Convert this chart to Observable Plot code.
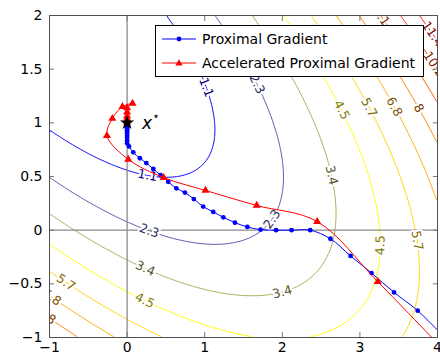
<!DOCTYPE html>
<html><head><meta charset="utf-8">
<script src="https://cdn.jsdelivr.net/npm/d3@7"></script>
<script src="https://cdn.jsdelivr.net/npm/@observablehq/plot@0.6"></script>
<style>
body{margin:0;background:#fff;}
#wrap{position:relative;width:440px;height:355px;font-family:"DejaVu Sans",sans-serif;}
#legend{position:absolute;left:155px;top:25px;width:269px;height:52px;border:1px solid #000;background:#fff;box-sizing:border-box;font-size:14px;color:#000;}
.row{position:absolute;left:0;height:20px;display:flex;align-items:center;white-space:nowrap;}
.row svg{margin-left:6px;margin-right:6px;}
</style></head><body><div id="wrap"></div>
<script>
const xTicks = [-1, 0, 1, 2, 3, 4];
const yTicks = [-1, -0.5, 0, 0.5, 1, 1.5, 2];
const contourLevels = [1.136, 2.273, 3.409, 4.545, 5.682, 6.818, 7.955, 9.091, 10.227, 11.364];
const contourLabelText = ["1.1", "2.3", "3.4", "4.5", "5.7", "6.8", "8", "9.1", "10.2", "11.4"];
// smooth objective: c0*x^2 + c1*x*y + c2*y^2 + c3*x + c4*y + c5
const surfaceCoefficients = [0.5, 1, 1, -1, -3, 2.5];
// contour label anchors (approximate), level number
const labelX = [0.95, 0.26, 0.28, 1.66, 1.85, 0.22, 2.0, 2.63, 0.22, 2.75, 3.25, -0.79, 3.10, 3.72, 3.43, -0.98, 3.75, -0.99, 3.23, 3.94, 3.92];
const labelY = [1.30, 0.48, -0.03, 1.35, 0.12, -0.40, -0.58, 0.51, -0.67, 1.11, -0.14, -0.49, 1.13, -0.10, 1.14, -0.64, 1.13, -0.86, 1.95, 1.53, 1.81];
const labelLevel = [1, 1, 2, 2, 2, 3, 3, 3, 4, 4, 4, 5, 5, 5, 6, 6, 7, 7, 8, 9, 10];
// iterates
const blueX = [4.09, 3.745, 3.44, 3.15, 2.88, 2.62, 2.36, 2.12, 1.92, 1.72, 1.55, 1.39, 1.24, 1.11, 0.98, 0.86, 0.745, 0.635, 0.53, 0.432, 0.338, 0.248, 0.165, 0.08, 0.025, 0, 0, 0, 0, 0, 0, 0, 0, 0, 0, 0, 0, 0];
const blueY = [-1.0, -0.75, -0.58, -0.40, -0.24, -0.08, 0, 0, 0, 0.005, 0.03, 0.07, 0.12, 0.17, 0.22, 0.29, 0.35, 0.39, 0.45, 0.512, 0.57, 0.625, 0.67, 0.725, 0.78, 0.81, 0.835, 0.86, 0.88, 0.90, 0.915, 0.93, 0.942, 0.953, 0.962, 0.97, 0.978, 0.985];
const redX = [4.1, 3.23, 2.45, 1.67, 1.01, 0.47, 0.015, -0.26, -0.19, -0.06, 0.07, 0, 0, 0, 0, 0, 0];
const redY = [-1.13, -0.48, 0.08, 0.23, 0.37, 0.49, 0.66, 0.88, 1.04, 1.15, 1.18, 1.14, 1.10, 1.065, 1.04, 1.02, 1.005];
const xStar = [{x: 0, y: 1}];

const [c0, c1, c2, c3, c4, c5] = surfaceCoefficients;
const surface = (x, y) => c0*x*x + c1*x*y + c2*y*y + c3*x + c4*y + c5;
const grad = (x, y) => [2*c0*x + c1*y + c3, c1*x + 2*c2*y + c4];

const sx = 388 / 5, sy = 322 / 3;
const palette = ["#0000ff", "#ffff00", "#ff8000", "#ff0000"];
const ramp = d3.piecewise(d3.interpolateRgb, palette);
const labels = labelX.map((x0, i) => {
  const L = contourLevels[labelLevel[i] - 1]; let x = x0, y = labelY[i];
  for (let k = 0; k < 30; k++) { const [gx, gy] = grad(x, y); const d = (surface(x, y) - L) / (gx*gx + gy*gy); x -= d * gx; y -= d * gy; }
  const [gx, gy] = grad(x, y); let a = Math.atan2(gx / sx, gy / sy) * 180 / Math.PI;
  if (a > 90) a -= 180; if (a <= -90) a += 180;
  const col = d3.interpolateRgb(ramp((labelLevel[i] - 1) / 9), "#000")(0.5);
  return {x, y, text: contourLabelText[labelLevel[i] - 1], angle: a, color: col};
});
const blue = blueX.map((x, i) => ({x, y: blueY[i]}));
const red = redX.map((x, i) => ({x, y: redY[i]}));
const fmt = d => d < 0 ? "\u2212" + Math.abs(d) : String(d);

const chart = Plot.plot({
  width: 440, height: 355, marginLeft: 49, marginRight: 3, marginTop: 15, marginBottom: 18,
  style: {fontFamily: "DejaVu Sans", fontSize: "14px", background: "#fff"},
  x: {domain: [-1, 4]}, y: {domain: [-1, 2]},
  color: {type: "linear", domain: [contourLevels[0], contourLevels[3], contourLevels[6], contourLevels[9]], range: palette, interpolate: "rgb"},
  marks: [
    Plot.contour(undefined, {value: surface, x1: -1, y1: -1, x2: 4, y2: 2, thresholds: contourLevels, stroke: "value", fill: "none", strokeWidth: 1, clip: true}),
    Plot.ruleX([0], {stroke: "#8a8a8a", strokeWidth: 1.3}),
    Plot.ruleY([0], {stroke: "#8a8a8a", strokeWidth: 1.3}),
    Plot.text(labels, {x: "x", y: "y", text: "text", rotate: "angle", fill: d => d.color, stroke: "white", strokeWidth: 4, fontSize: 12.5, clip: true}),
    Plot.line(blue, {x: "x", y: "y", stroke: "#0000ff", strokeWidth: 1, curve: "catmull-rom", clip: true}),
    Plot.dot(blue, {x: "x", y: "y", fill: "#0000ff", r: 2.4, clip: true}),
    Plot.line(red, {x: "x", y: "y", stroke: "#ff0000", strokeWidth: 1, curve: "catmull-rom", clip: true}),
    Plot.dot(red, {x: "x", y: "y", fill: "#ff0000", symbol: "triangle", r: 3, clip: true}),
    Plot.dot(xStar, {x: "x", y: "y", fill: "#000", symbol: "star", r: 4.5}),
    Plot.text(xStar, {x: "x", y: "y", text: () => "x", fontStyle: "italic", fontSize: 17, dx: 20, dy: 1}),
    Plot.text(xStar, {x: "x", y: "y", text: () => "\u22c6", fontSize: 12, dx: 29, dy: -7}),
    Plot.axisX({anchor: "bottom", ticks: xTicks, tickSize: 5, dy: -5, tickFormat: () => "", label: null, stroke: "#777"}),
    Plot.axisX({anchor: "top", ticks: xTicks, tickSize: 5, dy: 5, tickFormat: () => "", label: null, stroke: "#777"}),
    Plot.axisY({anchor: "left", ticks: yTicks, tickSize: 5, dx: 5, tickFormat: () => "", label: null, stroke: "#777"}),
    Plot.axisY({anchor: "right", ticks: yTicks, tickSize: 5, dx: -5, tickFormat: () => "", label: null, stroke: "#777"}),
    Plot.axisX({anchor: "bottom", ticks: xTicks, tickSize: 0, tickPadding: 5, tickFormat: fmt, label: null, fontSize: 14}),
    Plot.axisY({anchor: "left", ticks: yTicks, tickSize: 0, tickPadding: 7, tickFormat: fmt, label: null, fontSize: 14}),
    Plot.frame({stroke: "#505050", strokeWidth: 1})
  ]
});
const wrap = document.getElementById("wrap");
wrap.appendChild(chart);
const legend = document.createElement("div");
legend.id = "legend";
legend.innerHTML = `
<div class="row" style="top:3px"><svg width="34" height="10"><line x1="0" y1="5" x2="34" y2="5" stroke="#0000ff" stroke-width="1"/><circle cx="17" cy="5" r="2.4" fill="#0000ff"/></svg><span>Proximal Gradient</span></div>
<div class="row" style="top:27px"><svg width="34" height="10"><line x1="0" y1="5" x2="34" y2="5" stroke="#ff0000" stroke-width="1"/><path d="M17,1.2 L20.6,7.5 L13.4,7.5 Z" fill="#ff0000"/></svg><span>Accelerated Proximal Gradient</span></div>`;
wrap.appendChild(legend);
</script></body></html>
